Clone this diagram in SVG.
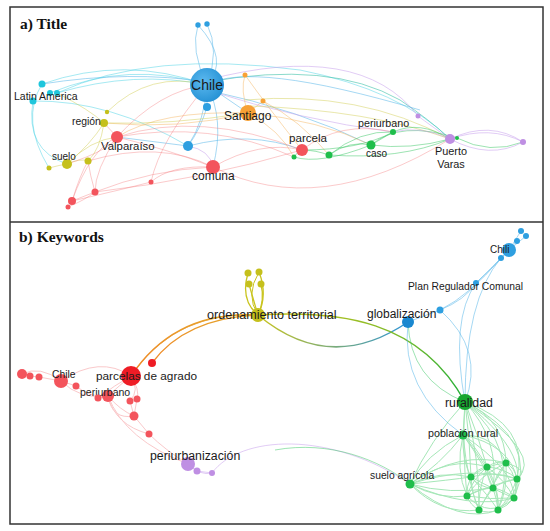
<svg xmlns="http://www.w3.org/2000/svg" width="550" height="531" viewBox="0 0 550 531">
<defs>
<style>
.lbl{font-family:"Liberation Sans",Arial,sans-serif;fill:#1a1a1a}
.ttl{font-family:"Liberation Serif","Times New Roman",serif;font-weight:bold;fill:#111;font-size:15.5px}
.e{fill:none;stroke-width:1}
.eb{stroke:#5bb8ea;opacity:.55}
.ec{stroke:#4dd4e6;opacity:.5}
.er{stroke:#f47a7e;opacity:.4}
.eo{stroke:#f6b765;opacity:.5}
.ey{stroke:#d3cf5a;opacity:.5}
.eg{stroke:#3cc865;opacity:.5}
.egl{stroke:#5ed47e;opacity:.55}
.ep{stroke:#c9a2ec;opacity:.55}
.et{stroke:#3ec2a8;opacity:.6}
.blue{fill:#2e9fe0}
.cyan{fill:#1ec6dc}
.orange{fill:#f7a136}
.red{fill:#f3545c}
.yellow{fill:#c5c01c}
.green{fill:#1fbe4b}
.purple{fill:#bf8fe3}
</style>
<linearGradient id="gOY" x1="0" y1="1" x2="1" y2="0"><stop offset="0" stop-color="#f08a2a"/><stop offset="1" stop-color="#e4a52a"/></linearGradient>
<linearGradient id="gYB" x1="0" y1="0" x2="1" y2="0"><stop offset="0" stop-color="#c9c41e"/><stop offset="1" stop-color="#2e94d6"/></linearGradient>
<linearGradient id="gYG" x1="0" y1="0" x2="1" y2="1"><stop offset="0" stop-color="#c9c41e"/><stop offset="1" stop-color="#1cae3a"/></linearGradient>
<radialGradient id="rChile" cx=".4" cy=".4" r=".6"><stop offset="0" stop-color="#5cb9ef"/><stop offset="1" stop-color="#2994d6"/></radialGradient>
</defs>
<rect width="550" height="531" fill="#fff"/>
<rect x="10" y="7" width="533" height="517" fill="none" stroke="#333" stroke-width="1.5"/>
<line x1="10" y1="222" x2="543" y2="222" stroke="#333" stroke-width="1.5"/>
<text class="ttl" x="20" y="29">a) Title</text>
<text class="ttl" x="19" y="242">b) Keywords</text>

<g id="connectors-a">
<path class="e eb" d="M207,85 Q190,50 198,25"/>
<path class="e eb" d="M207,85 Q220,50 207,24"/>
<path class="e eb" d="M198,25 Q230,60 207,85"/>
<path class="e ec" d="M42,84 Q125,55 207,85"/>
<path class="e ec" d="M50,93 Q130,60 207,85"/>
<path class="e ec" d="M57,93 Q135,70 207,85"/>
<path class="e eb" d="M42,84 Q130,70 207,82"/>
<path class="e ec" d="M33,101 Q110,100 188,146"/>
<path class="e ec" d="M33,101 Q25,150 67,164"/>
<path class="e ec" d="M42,84 Q20,120 49,168"/>
<path class="e ec" d="M57,93 Q150,50 300,70 Q400,90 450,139"/>
<path class="e et" d="M207,82 Q330,60 400,100 Q430,120 450,139"/>
<path class="e ep" d="M207,80 Q360,40 418,116"/>
<path class="e eb" d="M207,85 Q250,60 420,110"/>
<path class="e eb" d="M207,85 L207,107"/>
<path class="e eb" d="M207,85 Q205,120 188,146"/>
<path class="e eb" d="M207,107 Q200,130 188,146"/>
<path class="e eb" d="M207,85 Q225,120 213,167"/>
<path class="e eb" d="M207,85 L248,113"/>
<path class="e eb" d="M207,90 Q300,110 371,145"/>
<path class="e eb" d="M188,146 Q250,130 302,150"/>
<path class="e eb" d="M188,146 L117,137"/>
<path class="e ep" d="M188,146 Q210,150 213,167"/>
<path class="e ep" d="M207,90 Q300,120 393,132"/>
<path class="e eo" d="M248,113 Q240,90 245,75"/>
<path class="e eo" d="M245,75 Q270,110 302,150"/>
<path class="e eo" d="M248,113 L263,101"/>
<path class="e eo" d="M263,101 Q300,120 329,155"/>
<path class="e eo" d="M248,113 Q280,130 294,157"/>
<path class="e eo" d="M248,113 Q320,120 371,145"/>
<path class="e eo" d="M248,113 Q160,110 117,137"/>
<path class="e eo" d="M248,113 Q180,130 104,123"/>
<path class="e ey" d="M245,100 Q360,90 450,139"/>
<path class="e ey" d="M250,106 Q370,110 450,139"/>
<path class="e ey" d="M57,93 Q90,110 104,123"/>
<path class="e ey" d="M107,112 Q150,70 207,85"/>
<path class="e ey" d="M104,123 Q90,145 67,164"/>
<path class="e ey" d="M104,123 Q100,150 88,161"/>
<path class="e ey" d="M67,164 Q80,158 88,161"/>
<path class="e ey" d="M49,168 Q60,165 67,164"/>
<path class="e ey" d="M67,164 Q90,140 117,137"/>
<path class="e ey" d="M104,123 Q170,125 248,113"/>
<path class="e er" d="M117,137 Q160,90 207,85"/>
<path class="e er" d="M117,137 Q170,150 213,167"/>
<path class="e er" d="M117,137 Q200,110 302,150"/>
<path class="e er" d="M117,137 Q210,120 294,157"/>
<path class="e er" d="M117,137 L104,123"/>
<path class="e er" d="M117,137 Q90,150 72,201"/>
<path class="e er" d="M117,137 Q95,170 95,192"/>
<path class="e er" d="M67,164 Q110,150 117,137"/>
<path class="e er" d="M213,167 Q260,140 302,150"/>
<path class="e er" d="M213,167 Q160,140 88,161"/>
<path class="e er" d="M213,167 Q320,220 450,139"/>
<path class="e er" d="M213,167 Q170,165 151,182"/>
<path class="e er" d="M151,182 Q160,140 207,85"/>
<path class="e er" d="M95,192 Q150,170 213,167"/>
<path class="e er" d="M95,192 Q200,180 302,150"/>
<path class="e er" d="M72,201 Q120,190 151,182"/>
<path class="e er" d="M72,201 L95,192"/>
<path class="e er" d="M68,207 Q85,200 95,192"/>
<path class="e er" d="M72,201 Q80,175 88,161"/>
<path class="e er" d="M95,192 Q90,175 88,161"/>
<path class="e er" d="M302,150 Q340,120 393,132"/>
<path class="e eg" d="M294,157 Q320,165 371,145"/>
<path class="e eg" d="M294,157 Q300,145 329,155"/>
<path class="e eg" d="M329,155 Q350,140 371,145"/>
<path class="e eg" d="M329,155 Q360,130 393,132"/>
<path class="e eg" d="M371,145 L393,132"/>
<path class="e eg" d="M371,145 Q410,150 450,139"/>
<path class="e eg" d="M329,155 Q400,160 450,139"/>
<path class="e eg" d="M393,132 Q420,120 450,139"/>
<path class="e eg" d="M371,145 Q400,120 457,138"/>
<path class="e eg" d="M302,150 Q360,150 393,132"/>
<path class="e eg" d="M457,138 Q490,155 523,142"/>
<path class="e ep" d="M418,116 Q430,125 450,139"/>
<path class="e ep" d="M450,139 Q490,120 523,142"/>
<path class="e ep" d="M450,139 Q490,125 523,142"/>
<path class="e ep" d="M450,139 Q490,160 523,142"/>
<path class="e ep" d="M393,132 Q420,125 450,139"/>
</g>

<g id="connectors-b">
<path d="M258,315 Q175,310 131,376" fill="none" stroke="url(#gOY)" stroke-width="1.5"/>
<path d="M258,315 Q185,318 152,363" fill="none" stroke="url(#gOY)" stroke-width="1.3"/>
<path d="M256,315 Q178,312 135,370" fill="none" stroke="url(#gOY)" stroke-width="1" opacity=".7"/>
<path d="M258,315 Q240,300 248,273" fill="none" stroke="#c9c41e" stroke-width="1.3"/>
<path d="M258,315 Q252,295 249,284" fill="none" stroke="#c9c41e" stroke-width="1.3"/>
<path d="M258,315 Q268,295 259,272" fill="none" stroke="#c9c41e" stroke-width="1.3"/>
<path d="M258,315 Q265,300 261,284" fill="none" stroke="#c9c41e" stroke-width="1.3"/>
<path d="M258,315 Q245,295 259,272" fill="none" stroke="#c9c41e" stroke-width="1"/>
<path d="M258,315 Q330,375 408,322" fill="none" stroke="url(#gYB)" stroke-width="1.5"/>
<path d="M258,315 C340,310 420,320 465,402" fill="none" stroke="url(#gYG)" stroke-width="1.5"/>
<path class="e eb" d="M408,322 L440,310"/>
<path class="e eb" d="M440,310 Q465,300 476,283"/>
<path class="e eb" d="M440,310 Q470,295 501,258"/>
<path class="e eb" d="M476,283 Q495,265 501,258"/>
<path class="e eb" d="M476,283 Q500,260 509,250"/>
<path class="e eb" d="M501,258 L509,250"/>
<path class="e eb" d="M509,250 L517,241"/>
<path class="e eb" d="M509,250 L521,231"/>
<path class="e eb" d="M509,250 L526,236"/>
<path class="e eb" d="M465,402 Q450,320 476,283"/>
<path class="e eb" d="M465,402 Q465,300 501,258"/>
<path class="e eb" d="M408,322 Q400,390 463,435"/>
<path class="e eb" d="M440,310 Q485,350 465,402"/>
<path class="e eg" d="M408,322 Q410,380 465,402"/>
<path class="e ep" d="M212,473 C240,435 330,430 410,484"/>
<path class="e eg" d="M275,450 C330,440 380,460 410,484" opacity=".3"/>
<g class="e egl">
<path d="M465,402 L463,435"/>
<path d="M465,402 Q478,435 487,467"/>
<path d="M465,402 Q505,420 506,463"/>
<path d="M465,402 Q470,440 471,477"/>
<path d="M465,402 Q530,425 517,479"/>
<path d="M465,402 Q500,440 493,488"/>
<path d="M465,402 Q462,450 467,496"/>
<path d="M465,402 Q540,440 514,498"/>
<path d="M465,402 Q480,460 479,510"/>
<path d="M465,402 Q520,450 498,510"/>
<path d="M465,402 Q430,440 410,484"/>
<path d="M465,402 Q545,455 517,479"/>
<path d="M465,402 Q550,470 498,510"/>
<path d="M463,435 Q475,445 487,467"/>
<path d="M463,435 Q495,435 506,463"/>
<path d="M463,435 Q462,460 471,477"/>
<path d="M463,435 Q510,445 517,479"/>
<path d="M463,435 Q485,465 493,488"/>
<path d="M463,435 Q455,470 467,496"/>
<path d="M463,435 Q515,470 514,498"/>
<path d="M463,435 Q468,485 479,510"/>
<path d="M463,435 Q500,480 498,510"/>
<path d="M463,435 Q440,465 410,484"/>
<path d="M463,435 Q425,455 410,484"/>
<path d="M410,484 Q450,455 487,467"/>
<path d="M410,484 Q460,450 506,463"/>
<path d="M410,484 Q440,470 471,477"/>
<path d="M410,484 Q470,465 517,479"/>
<path d="M410,484 Q450,495 493,488"/>
<path d="M410,484 Q440,500 467,496"/>
<path d="M410,484 Q470,510 514,498"/>
<path d="M410,484 Q440,515 479,510"/>
<path d="M410,484 Q460,525 498,510"/>
<path d="M410,484 Q450,480 471,477"/>
<path d="M487,467 Q497,460 506,463"/>
<path d="M487,467 Q478,468 471,477"/>
<path d="M487,467 Q505,468 517,479"/>
<path d="M487,467 Q487,480 493,488"/>
<path d="M487,467 Q472,480 467,496"/>
<path d="M487,467 Q505,480 514,498"/>
<path d="M487,467 Q478,490 479,510"/>
<path d="M487,467 Q500,490 498,510"/>
<path d="M506,463 Q485,465 471,477"/>
<path d="M506,463 Q515,468 517,479"/>
<path d="M506,463 Q495,475 493,488"/>
<path d="M506,463 Q480,475 467,496"/>
<path d="M506,463 Q520,480 514,498"/>
<path d="M506,463 Q490,490 479,510"/>
<path d="M506,463 Q508,490 498,510"/>
<path d="M471,477 Q495,470 517,479"/>
<path d="M471,477 Q480,488 493,488"/>
<path d="M471,477 Q466,487 467,496"/>
<path d="M471,477 Q495,490 514,498"/>
<path d="M471,477 Q472,495 479,510"/>
<path d="M471,477 Q488,495 498,510"/>
<path d="M517,479 Q505,480 493,488"/>
<path d="M517,479 Q490,485 467,496"/>
<path d="M517,479 Q518,490 514,498"/>
<path d="M517,479 Q510,498 498,510"/>
<path d="M493,488 Q480,488 467,496"/>
<path d="M493,488 Q505,490 514,498"/>
<path d="M493,488 Q484,500 479,510"/>
<path d="M493,488 Q497,500 498,510"/>
<path d="M467,496 Q470,505 479,510"/>
<path d="M467,496 Q490,500 514,498"/>
<path d="M514,498 Q508,506 498,510"/>
<path d="M479,510 Q488,514 498,510"/>
<path d="M467,496 Q490,520 514,498"/>
<path d="M506,463 Q530,470 517,479"/>
</g>
<g class="e er">
<path d="M61,381 Q100,355 131,376"/>
<path d="M22,374 Q40,365 61,381"/>
<path d="M22,374 L30,376"/>
<path d="M30,376 L39,377"/>
<path d="M39,377 L61,381"/>
<path d="M61,381 L76,386"/>
<path d="M61,381 Q80,400 108,396"/>
<path d="M76,386 Q90,398 108,396"/>
<path d="M108,396 Q120,385 131,376"/>
<path d="M98,398 Q115,385 131,376"/>
<path d="M98,398 L108,396"/>
<path d="M131,376 Q140,390 130,401"/>
<path d="M131,376 Q140,390 137,399"/>
<path d="M108,396 Q120,410 134,416"/>
<path d="M108,396 Q115,425 149,434"/>
<path d="M108,396 Q112,420 134,416"/>
<path d="M130,401 L134,416"/>
<path d="M137,399 L134,416"/>
<path d="M134,416 L149,434"/>
<path d="M149,434 Q165,450 188,464"/>
<path d="M108,396 Q125,440 188,464"/>
</g>
<path class="e ep" d="M188,464 L197,471"/>
<path class="e ep" d="M188,464 Q200,476 212,473"/>
<path class="e ep" d="M197,471 L212,473"/>
</g>

<g id="node-chile-a"><circle cx="207" cy="85" r="17" fill="url(#rChile)"/><text class="lbl" x="207" y="90" font-size="14" text-anchor="middle">Chile</text></g>
<g id="node-a-blue1"><circle class="blue" cx="198" cy="25" r="2.7"/></g>
<g id="node-a-blue2"><circle class="blue" cx="207" cy="24" r="2.7"/></g>
<g id="node-a-blue3"><circle class="blue" cx="207" cy="107" r="4"/></g>
<g id="node-a-blue4"><circle class="blue" cx="188" cy="146" r="5"/></g>
<g id="node-a-cyan1"><circle class="cyan" cx="42" cy="84" r="3.5"/></g>
<g id="node-a-cyan2"><circle class="cyan" cx="50" cy="93" r="3"/></g>
<g id="node-a-cyan3"><circle class="cyan" cx="57" cy="93" r="3"/></g>
<g id="node-latin-america"><circle class="cyan" cx="33" cy="101" r="3.5"/><text class="lbl" x="14" y="100" font-size="10.5">Latin America</text></g>
<g id="node-santiago"><circle class="orange" cx="248" cy="113" r="8"/><text class="lbl" x="224" y="120" font-size="12">Santiago</text></g>
<g id="node-a-orange1"><circle class="orange" cx="245" cy="75" r="2.5"/></g>
<g id="node-a-orange2"><circle class="orange" cx="263" cy="101" r="2.5"/></g>
<g id="node-region"><circle class="yellow" cx="104" cy="123" r="4"/><text class="lbl" x="72" y="125" font-size="10.4">región</text></g>
<g id="node-a-yellow1"><circle class="yellow" cx="107" cy="112" r="2.2"/></g>
<g id="node-suelo"><circle class="yellow" cx="67" cy="164" r="5"/><text class="lbl" x="52" y="160" font-size="10">suelo</text></g>
<g id="node-a-yellow2"><circle class="yellow" cx="49" cy="168" r="2.5"/></g>
<g id="node-a-yellow3"><circle class="yellow" cx="88" cy="161" r="3.5"/></g>
<g id="node-valparaiso"><circle class="red" cx="117" cy="137" r="6"/><text class="lbl" x="101" y="150" font-size="11.4">Valparaíso</text></g>
<g id="node-comuna"><circle class="red" cx="213" cy="167" r="7"/><text class="lbl" x="192" y="180" font-size="12">comuna</text></g>
<g id="node-a-red1"><circle class="red" cx="151" cy="182" r="2.5"/></g>
<g id="node-a-red2"><circle class="red" cx="95" cy="192" r="3.5"/></g>
<g id="node-a-red3"><circle class="red" cx="72" cy="201" r="4"/></g>
<g id="node-a-red4"><circle class="red" cx="68" cy="207" r="2.5"/></g>
<g id="node-parcela"><circle class="red" cx="302" cy="150" r="6"/><text class="lbl" x="289" y="142" font-size="11.6">parcela</text></g>
<g id="node-a-green1"><circle class="green" cx="294" cy="157" r="2.5"/></g>
<g id="node-a-green2"><circle class="green" cx="329" cy="155" r="3.5"/></g>
<g id="node-caso"><circle class="green" cx="371" cy="145" r="4.5"/><text class="lbl" x="366" y="157" font-size="10">caso</text></g>
<g id="node-periurbano-a"><circle class="green" cx="393" cy="132" r="3"/><text class="lbl" x="358" y="127" font-size="10.7">periurbano</text></g>
<g id="node-a-green3"><circle class="green" cx="457" cy="138" r="2"/></g>
<g id="node-puerto-varas"><circle class="purple" cx="450" cy="139" r="5"/><text class="lbl" x="451" y="155" font-size="10.9" text-anchor="middle">Puerto</text><text class="lbl" x="451" y="168" font-size="10.9" text-anchor="middle">Varas</text></g>
<g id="node-a-purple1"><circle class="purple" cx="418" cy="116" r="2.5"/></g>
<g id="node-a-purple2"><circle class="purple" cx="523" cy="142" r="3"/></g>

<g id="node-b-yellow1"><circle class="yellow" cx="248" cy="273" r="3.5"/></g>
<g id="node-b-yellow2"><circle class="yellow" cx="259" cy="272" r="3.5"/></g>
<g id="node-b-yellow3"><circle class="yellow" cx="249" cy="284" r="3.5"/></g>
<g id="node-b-yellow4"><circle class="yellow" cx="261" cy="284" r="3.5"/></g>
<g id="node-ordenamiento"><circle class="yellow" cx="258" cy="315" r="7"/><text class="lbl" x="207" y="319" font-size="12.6">ordenamiento territorial</text></g>
<g id="node-parcelas-de-agrado"><circle cx="131" cy="376" r="10" fill="#ee1c25"/><text class="lbl" x="96" y="380" font-size="11.8">parcelas de agrado</text></g>
<g id="node-b-red1"><circle fill="#ee1c25" cx="152" cy="363" r="4"/></g>
<g id="node-chile-b"><circle class="red" cx="61" cy="381" r="7"/><text class="lbl" x="52" y="378" font-size="10.3">Chile</text></g>
<g id="node-b-red2"><circle class="red" cx="22" cy="374" r="5"/></g>
<g id="node-b-red3"><circle class="red" cx="30" cy="376" r="3.5"/></g>
<g id="node-b-red4"><circle class="red" cx="39" cy="377" r="3.5"/></g>
<g id="node-b-red5"><circle class="red" cx="76" cy="386" r="3.5"/></g>
<g id="node-periurbano-b"><circle class="red" cx="108" cy="396" r="6"/><text class="lbl" x="80" y="396" font-size="10.5">periurbano</text></g>
<g id="node-b-red6"><circle class="red" cx="98" cy="398" r="3.5"/></g>
<g id="node-b-red7"><circle class="red" cx="130" cy="401" r="3.5"/></g>
<g id="node-b-red8"><circle class="red" cx="137" cy="399" r="3.5"/></g>
<g id="node-b-red9"><circle class="red" cx="134" cy="416" r="4.5"/></g>
<g id="node-b-red10"><circle class="red" cx="149" cy="434" r="3.5"/></g>
<g id="node-periurbanizacion"><circle class="purple" cx="188" cy="464" r="7"/><text class="lbl" x="150" y="460" font-size="12.3">periurbanización</text></g>
<g id="node-b-purple1"><circle class="purple" cx="197" cy="471" r="3.5"/></g>
<g id="node-b-purple2"><circle class="purple" cx="212" cy="473" r="3"/></g>
<g id="node-chili"><circle class="blue" cx="509" cy="250" r="7"/><text class="lbl" x="490" y="253" font-size="10">Chili</text></g>
<g id="node-b-blue1"><circle class="blue" cx="521" cy="231" r="3"/></g>
<g id="node-b-blue2"><circle class="blue" cx="526" cy="236" r="3"/></g>
<g id="node-b-blue3"><circle class="blue" cx="517" cy="241" r="3"/></g>
<g id="node-b-blue4"><circle class="blue" cx="501" cy="258" r="3"/></g>
<g id="node-plan-regulador"><circle class="blue" cx="476" cy="283" r="3"/><text class="lbl" x="408" y="290" font-size="10.3">Plan Regulador Comunal</text></g>
<g id="node-b-blue5"><circle class="blue" cx="440" cy="310" r="3.5"/></g>
<g id="node-globalizacion"><circle cx="408" cy="322" r="6" fill="#1a88d0"/><text class="lbl" x="367" y="318" font-size="12">globalización</text></g>
<g id="node-ruralidad"><circle cx="465" cy="402" r="8" fill="#17a630"/><text class="lbl" x="445" y="407" font-size="12.3">ruralidad</text></g>
<g id="node-poblacion-rural"><circle class="green" cx="463" cy="435" r="4.5"/><text class="lbl" x="428" y="437" font-size="10.7">población rural</text></g>
<g id="node-suelo-agricola"><circle class="green" cx="410" cy="484" r="4.5"/><text class="lbl" x="370" y="479" font-size="10.3">suelo agrícola</text></g>
<g id="node-b-g1"><circle class="green" cx="487" cy="467" r="3.5"/></g>
<g id="node-b-g2"><circle class="green" cx="506" cy="463" r="3.5"/></g>
<g id="node-b-g3"><circle class="green" cx="471" cy="477" r="3.5"/></g>
<g id="node-b-g4"><circle class="green" cx="517" cy="479" r="3.5"/></g>
<g id="node-b-g5"><circle class="green" cx="493" cy="488" r="3.5"/></g>
<g id="node-b-g6"><circle class="green" cx="467" cy="496" r="3.5"/></g>
<g id="node-b-g7"><circle class="green" cx="514" cy="498" r="3.5"/></g>
<g id="node-b-g8"><circle class="green" cx="479" cy="510" r="3.5"/></g>
<g id="node-b-g9"><circle class="green" cx="498" cy="510" r="3.5"/></g>
</svg>
